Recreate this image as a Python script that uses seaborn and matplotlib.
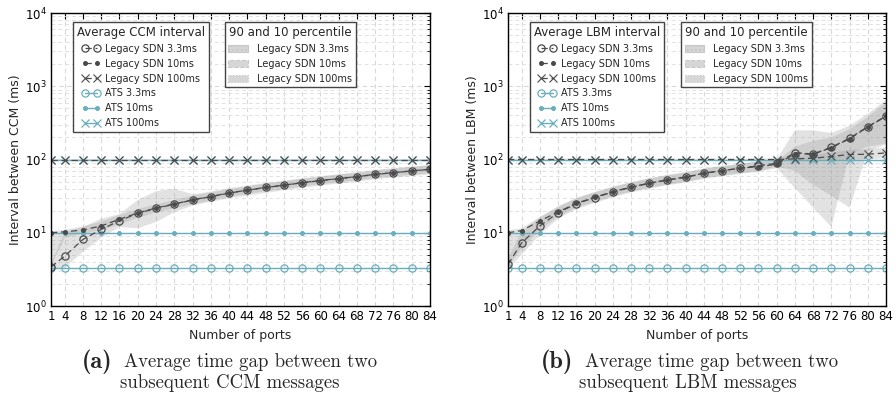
import matplotlib
matplotlib.use("Agg")
import matplotlib.pyplot as plt
import matplotlib.patches as mpatches
import numpy as np
import pandas as pd
import seaborn as sns

# ---------------- data ----------------
ports = [1, 4, 8, 12, 16, 20, 24, 28, 32, 36, 40, 44, 48, 52, 56, 60, 64, 68, 72, 76, 80, 84]
xtick_labels = ["1", "4", "8", "12", "16", "20", "24", "28", "32", "36", "40", "44",
                "48", "52", "56", "60", "64", "68", "72", "76", "80", "84"]

ats_33 = [3.3, 3.3, 3.3, 3.3, 3.3, 3.3, 3.3, 3.3, 3.3, 3.3, 3.3, 3.3, 3.3, 3.3, 3.3, 3.3, 3.3, 3.3, 3.3, 3.3, 3.3, 3.3]
ats_10 = [10, 10, 10, 10, 10, 10, 10, 10, 10, 10, 10, 10, 10, 10, 10, 10, 10, 10, 10, 10, 10, 10]
ats_100 = [100, 100, 100, 100, 100, 100, 100, 100, 100, 100, 100, 100, 100, 100, 100, 100, 100, 100, 100, 100, 100, 100]

# (a) CCM
ccm_legacy_33 = [3.4, 4.8, 8.1, 11.1, 14.6, 18.4, 21.6, 24.5, 28.0, 31.0, 34.8, 38.0, 41.5, 44.4, 48.2, 51.4, 54.7, 58.3, 62.5, 66.0, 69.7, 73.5]
ccm_legacy_10 = [10.0, 10.3, 10.9, 12.4, 15.3, 18.6, 21.8, 24.7, 28.2, 31.2, 35.0, 38.2, 41.7, 44.6, 48.4, 51.6, 54.9, 58.5, 62.7, 66.2, 69.9, 73.7]
ccm_legacy_100 = [100, 100, 100, 100, 100, 100, 100, 100, 100, 100, 100, 100, 100, 100, 100, 100, 100, 100, 100, 100, 100, 100]
ccm_p33_lo = [3.1, 3.3, 5.5, 8.5, 12.0, 11.5, 14.0, 19.0, 23.5, 26.5, 29.5, 32.0, 35.0, 38.0, 41.0, 44.0, 47.0, 50.0, 53.5, 56.5, 59.5, 62.5]
ccm_p33_hi = [3.8, 10.2, 12.0, 15.5, 18.0, 28.0, 37.0, 40.0, 33.5, 36.5, 40.5, 44.0, 48.0, 51.5, 55.5, 59.5, 63.0, 67.0, 72.0, 76.0, 80.0, 85.0]
ccm_p10_lo = [3.5, 8.5, 9.8, 10.8, 13.0, 16.0, 19.0, 21.5, 24.5, 27.5, 31.0, 34.0, 37.0, 39.5, 43.0, 46.0, 49.0, 52.0, 56.0, 59.0, 62.0, 65.0]
ccm_p10_hi = [10.5, 11.0, 12.2, 14.2, 17.5, 21.0, 24.5, 28.0, 32.0, 35.5, 39.5, 43.0, 47.0, 50.0, 54.5, 58.0, 62.0, 66.0, 71.0, 75.0, 79.0, 83.0]
ccm_p100_lo = [97, 97, 97, 97, 97, 97, 97, 97, 97, 97, 97, 97, 97, 97, 97, 97, 97, 97, 97, 97, 97, 97]
ccm_p100_hi = [103, 103, 103, 103, 103, 103, 103, 103, 103, 103, 103, 103, 103, 103, 103, 103, 103, 103, 103, 103, 103, 103]

# (b) LBM
lbm_legacy_33 = [3.7, 7.3, 12.4, 18.8, 24.9, 30.1, 36.0, 41.7, 47.3, 52.5, 57.1, 64.8, 70.3, 75.9, 82.3, 88.7, 124, 119, 147, 195, 281, 392]
lbm_legacy_10 = [10.0, 10.7, 14.5, 19.2, 25.2, 30.4, 36.3, 42.0, 47.6, 52.8, 57.5, 65.0, 70.5, 76.0, 80.0, 86.0, 120, 118, 145, 192, 278, 388]
lbm_legacy_100 = [100, 100, 100, 100, 100, 100, 100, 100, 100, 100, 100, 100, 100, 100, 100, 100, 102, 104, 110, 117, 118, 123]
lbm_p33_lo = [3.2, 5.0, 9.5, 15.5, 21.0, 25.5, 30.5, 35.5, 40.0, 44.5, 48.5, 54.5, 59.0, 64.0, 68.0, 76.0, 41.0, 22.0, 12.0, 120, 150, 165]
lbm_p33_hi = [4.5, 10.5, 16.0, 22.5, 29.5, 35.5, 42.0, 48.5, 55.0, 61.0, 66.5, 75.0, 81.0, 87.0, 95.0, 100, 250, 250, 230, 290, 420, 650]
lbm_p10_lo = [3.5, 6.0, 11.0, 16.5, 22.0, 26.5, 31.5, 36.5, 41.0, 45.5, 49.5, 55.5, 60.0, 65.0, 69.0, 80.0, 70.0, 45.0, 32.0, 22.0, 130, 160]
lbm_p10_hi = [10.8, 11.5, 16.5, 23.0, 30.0, 36.0, 42.5, 49.0, 55.5, 61.5, 67.0, 75.5, 81.5, 87.5, 94.0, 95.0, 150, 180, 200, 260, 380, 600]
lbm_p100_lo = [97, 97, 97, 97, 97, 97, 97, 97, 97, 97, 97, 97, 97, 97, 97, 97, 95, 95, 98, 100, 100, 105]
lbm_p100_hi = [103, 103, 103, 103, 103, 103, 103, 103, 103, 103, 103, 103, 103, 103, 103, 103, 110, 115, 125, 135, 140, 145]

series_labels = ["Legacy SDN 3.3ms", "Legacy SDN 10ms", "Legacy SDN 100ms",
                 "ATS 3.3ms", "ATS 10ms", "ATS 100ms"]

# ---------------- style ----------------
sns.set_theme(style="white")
plt.rcParams["font.family"] = ["DejaVu Sans"]

LEG = "#4a4a4a"
ATS = "#6aaebe"
BAND = "#9a9a9a"
MS = 5.2
DOT = 2.8

fig = plt.figure(figsize=(8.96, 3.95), dpi=100)
ax1 = fig.add_axes([51 / 896, 89 / 395, 379 / 896, 293 / 395])
ax2 = fig.add_axes([508 / 896, 89 / 395, 378 / 896, 293 / 395])


def draw(ax, leg33, leg10, leg100, bands, kind, ylabel):
    band_handles = []
    hatches = ["....", None, None]
    edge_ls = ["-", "--", ":"]
    for (lo, hi), hatch, els in zip(bands, hatches, edge_ls):
        ax.fill_between(ports, lo, hi, facecolor=BAND, alpha=0.28, edgecolor="none", lw=0)
        band_handles.append(mpatches.Patch(facecolor="#d6d6d6", edgecolor="#c8c8c8",
                                           linestyle=els, lw=0.8, hatch=hatch))
    sns.lineplot(x=ports, y=ats_33, ax=ax, color=ATS, lw=1.0, marker="o", markersize=MS,
                 markerfacecolor="none", markeredgecolor=ATS, markeredgewidth=0.9)
    ats33_line = ax.get_lines()[-1]
    sns.lineplot(x=ports, y=ats_10, ax=ax, color=ATS, lw=1.0, marker="o", markersize=DOT,
                 markerfacecolor=ATS, markeredgecolor=ATS)
    ats10_line = ax.get_lines()[-1]
    sns.lineplot(x=ports, y=ats_100, ax=ax, color=ATS, lw=1.0, marker="x", markersize=MS,
                 markeredgecolor=ATS, markeredgewidth=0.9)
    ats100_line = ax.get_lines()[-1]
    sns.lineplot(x=ports, y=leg33, ax=ax, color=LEG, lw=0.9, linestyle=(0, (5, 3)),
                 marker="o", markersize=MS, markerfacecolor="none", markeredgecolor=LEG,
                 markeredgewidth=0.9)
    l33 = ax.get_lines()[-1]
    sns.lineplot(x=ports, y=leg10, ax=ax, color=LEG, lw=0.9, linestyle=(0, (5, 3)),
                 marker="o", markersize=DOT, markerfacecolor=LEG, markeredgecolor=LEG)
    l10 = ax.get_lines()[-1]
    sns.lineplot(x=ports, y=leg100, ax=ax, color=LEG, lw=0.9, linestyle=(0, (5, 3)),
                 marker="x", markersize=MS, markeredgecolor=LEG, markeredgewidth=0.8)
    l100 = ax.get_lines()[-1]
    h = [l33, l10, l100, ats33_line, ats10_line, ats100_line]

    ax.set_yscale("log")
    ax.set_ylim(1, 1e4)
    ax.set_xlim(1, 84)
    ax.set_xticks(ports)
    ax.set_xticklabels(xtick_labels)
    ax.tick_params(which="both", direction="in", top=True, right=True, colors="black",
                   labelsize=8.5, pad=3)
    ax.tick_params(which="major", length=4, width=0.8)
    ax.tick_params(which="minor", length=2, width=0.6)
    ax.tick_params(axis="x", which="minor", bottom=False, top=False)
    ax.grid(True, which="major", axis="both", linestyle=(0, (4, 3)), color="#d9d9d9", lw=0.8)
    ax.grid(True, which="minor", axis="y", linestyle=(0, (4, 3)), color="#e2e2e2", lw=0.7)
    ax.set_axisbelow(True)
    for s in ax.spines.values():
        s.set_visible(True)
        s.set_color("black")
        s.set_linewidth(1.0)
    ax.set_xlabel("Number of ports", fontsize=9, labelpad=4)
    ax.set_ylabel(ylabel, fontsize=9, labelpad=2)

    leg1 = ax.legend(h, series_labels, title=f"Average {kind} interval", loc="upper left",
                     bbox_to_anchor=(0.058, 0.969), borderaxespad=0, numpoints=2,
                     fontsize=7, title_fontsize=8.5, handlelength=1.8, handletextpad=0.55,
                     labelspacing=0.5, fancybox=False, framealpha=1, edgecolor="#444444",
                     borderpad=0.4)
    leg1.get_frame().set_linewidth(1.0)
    ax.add_artist(leg1)
    leg2 = ax.legend(band_handles, series_labels[:3], title="90 and 10 percentile",
                     loc="upper left", bbox_to_anchor=(0.458, 0.969), borderaxespad=0,
                     fontsize=7, title_fontsize=8.5, handlelength=2.0, handletextpad=0.9,
                     labelspacing=0.5, fancybox=False, framealpha=1, edgecolor="#444444",
                     borderpad=0.4)
    leg2.get_frame().set_linewidth(1.0)


draw(ax1, ccm_legacy_33, ccm_legacy_10, ccm_legacy_100,
     [(ccm_p33_lo, ccm_p33_hi), (ccm_p10_lo, ccm_p10_hi), (ccm_p100_lo, ccm_p100_hi)],
     "CCM", "Interval between CCM (ms)")
draw(ax2, lbm_legacy_33, lbm_legacy_10, lbm_legacy_100,
     [(lbm_p33_lo, lbm_p33_hi), (lbm_p10_lo, lbm_p10_hi), (lbm_p100_lo, lbm_p100_hi)],
     "LBM", "Interval between LBM (ms)")

# captions
W, H = 896, 395
cap = [("(a)", 82, "Average time gap between two", 124, "subsequent CCM messages", 230),
       ("(b)", 541, "Average time gap between two", 585, "subsequent LBM messages", 688)]
for tag, tx, line1, l1x, line2, l2x in cap:
    fig.text(tx / W, 1 - 362 / H, tag, fontfamily="cmb10", fontsize=17.5, va="center", ha="left")
    fig.text(l1x / W, 1 - 362 / H, line1, fontfamily="cmr10", fontsize=13.5, va="center", ha="left")
    fig.text(l2x / W, 1 - 383 / H, line2, fontfamily="cmr10", fontsize=13.5, va="center", ha="center")

fig.savefig("out.png", dpi=100)
